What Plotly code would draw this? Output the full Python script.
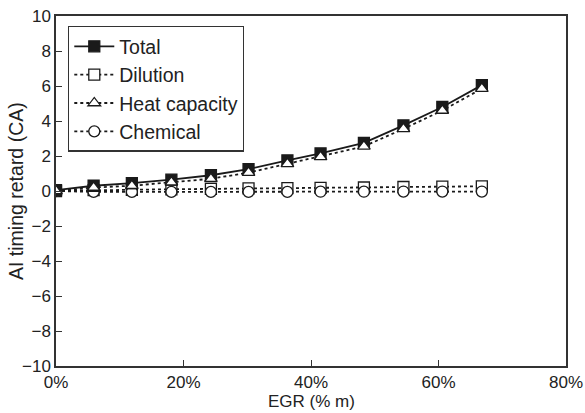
import plotly.graph_objects as go

egr = [0, 5.9, 11.9, 18.1, 24.3, 30.2, 36.3, 41.5, 48.3, 54.5, 60.6, 66.8]
total = [0.05, 0.3, 0.45, 0.65, 0.9, 1.25, 1.75, 2.15, 2.75, 3.75, 4.8, 6.05]
dilution = [0.0, 0.05, 0.07, 0.1, 0.12, 0.15, 0.17, 0.18, 0.2, 0.23, 0.25, 0.27]
heat_capacity = [0.0, 0.2, 0.3, 0.5, 0.7, 1.05, 1.55, 1.95, 2.55, 3.55, 4.6, 5.85]
chemical = [0.0, -0.05, -0.05, -0.05, -0.05, -0.05, -0.05, -0.04, -0.04, -0.03, -0.03, -0.03]

x_ticks = [0, 20, 40, 60, 80]
y_ticks = [-10, -8, -6, -4, -2, 0, 2, 4, 6, 8, 10]
x_title = "EGR (% m)"
y_title = "AI timing retard (CA)"

FONT = "Liberation Sans, Arial, sans-serif"
fig = go.Figure()

def add(name, y, symbol, dash, fill, rank):
    fig.add_trace(go.Scatter(
        x=egr, y=y, name=name, mode="lines+markers",
        line=dict(color="#1a1a1a", width=1.8, dash=dash),
        marker=dict(symbol=symbol, size=11, color=fill,
                    line=dict(color="#1a1a1a", width=1.3)),
        legendrank=rank,
    ))

add("Dilution", dilution, "square", "dot", "white", 2)
add("Chemical", chemical, "circle", "dot", "white", 4)
add("Total", total, "square", "solid", "#1a1a1a", 1)
add("Heat capacity", heat_capacity, "triangle-up", "dot", "white", 3)

axis_common = dict(
    showline=True, linecolor="#333333", linewidth=1.5, mirror=True,
    ticks="inside", ticklen=6, tickwidth=1.3, tickcolor="#333333",
    showgrid=False, zeroline=False, automargin=False,
    ticklabeloverflow="allow",
    tickfont=dict(family=FONT, size=17, color="#222222"),
)

fig.update_layout(
    width=585, height=413,
    margin=dict(l=56, r=19, t=15.5, b=46.5),
    paper_bgcolor="white", plot_bgcolor="white",
    font=dict(family=FONT, size=19, color="#222222"),
    showlegend=True,
    legend=dict(
        x=0.0235, y=0.972, xanchor="left", yanchor="top",
        bordercolor="#333333", borderwidth=1.3, bgcolor="white",
        font=dict(family=FONT, size=19.5, color="#222222"),
        tracegroupgap=0, itemwidth=40,
    ),
    xaxis=dict(range=[0, 80], tickvals=x_ticks,
               ticktext=[f"{v}%" for v in x_ticks], **axis_common),
    yaxis=dict(range=[-10, 10], tickvals=y_ticks, **axis_common),
    annotations=[
        dict(text=x_title, xref="paper", yref="paper", x=0.5, y=0,
             xanchor="center", yanchor="middle", yshift=-35, showarrow=False,
             font=dict(family=FONT, size=17, color="#222222")),
        dict(text=y_title, xref="paper", yref="paper", x=0, y=0.5,
             xanchor="center", yanchor="middle", xshift=-40, textangle=-90,
             showarrow=False, font=dict(family=FONT, size=19.5, color="#222222")),
    ],
)

fig.write_html("out.html", config={"displayModeBar": False},
               post_script="document.body.style.margin='0';")
